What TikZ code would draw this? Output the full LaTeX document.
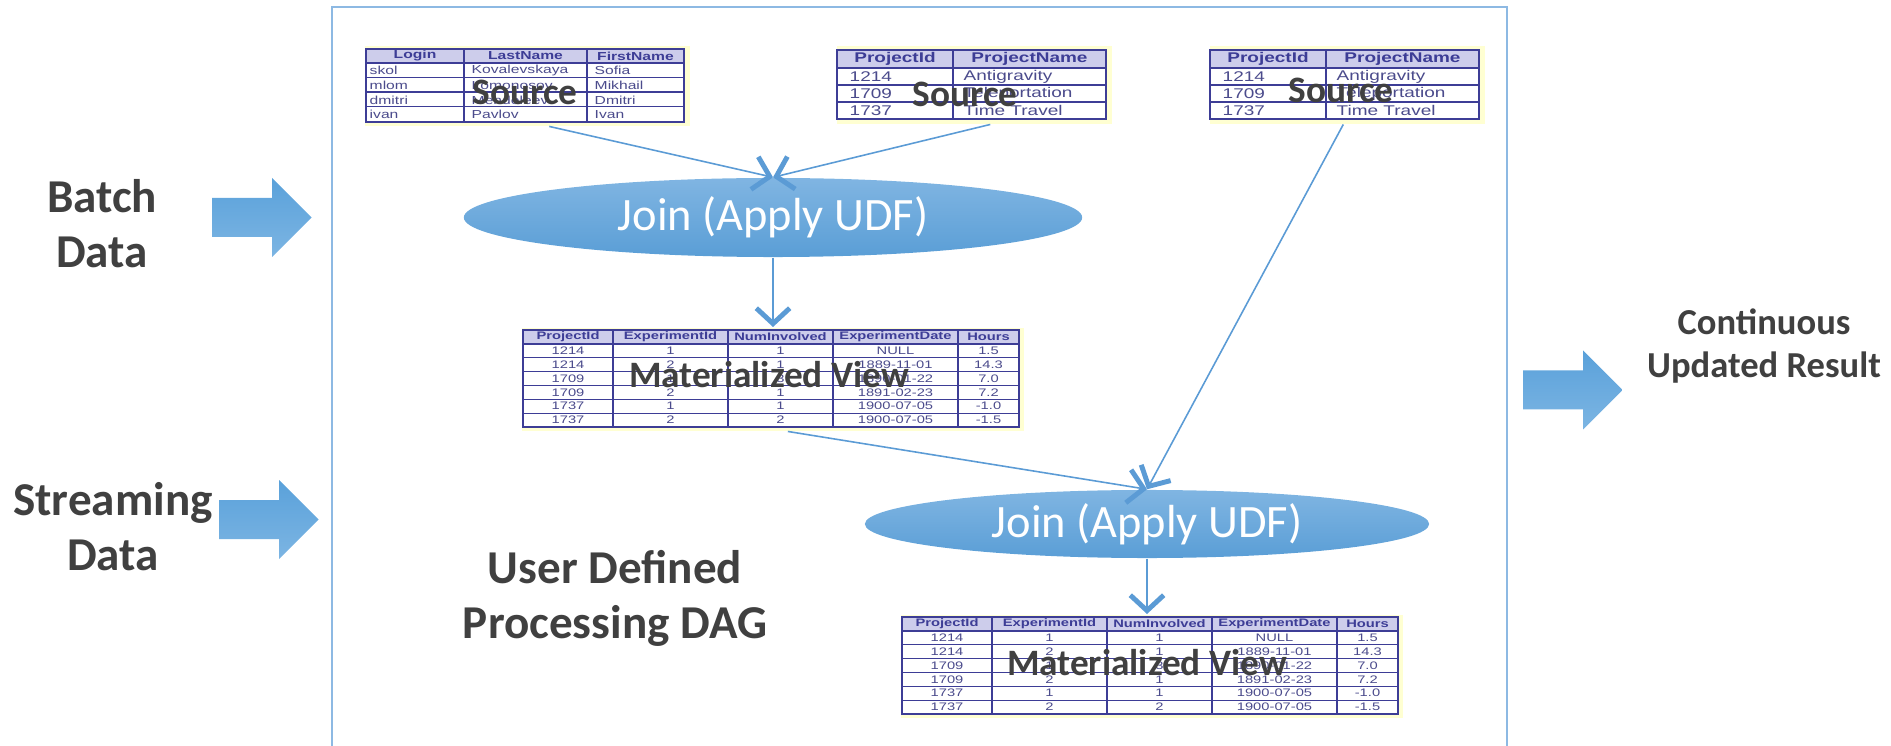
\documentclass[tikz,border=0pt]{standalone}
\usepackage{fontspec}
\setmainfont{Carlito}
\newfontfamily\tabfont[FakeStretch=1.35]{Liberation Sans}
\usetikzlibrary{calc,shapes.geometric,arrows.meta}

\definecolor{linkblue}{HTML}{5B9BD5}
\definecolor{frameblue}{HTML}{8DB9E3}
\definecolor{ovaltop}{HTML}{80B5E2}
\definecolor{ovalbot}{HTML}{5A9ED6}
\definecolor{arrowtop}{HTML}{5AA1DA}
\definecolor{arrowbot}{HTML}{7CB5E3}
\definecolor{labelgray}{HTML}{404040}
\definecolor{paper}{HTML}{FFFFD2}
\definecolor{headlav}{HTML}{CDCDEB}
\definecolor{gridnavy}{HTML}{3D3D96}
\definecolor{cellink}{HTML}{4B4B8C}

\tikzset{
	flow/.style={draw=linkblue, line width=0.45pt, -{Straight Barb[length=4.4pt,width=9.5pt,line width=1.4pt]}},
	joinoval/.style={ellipse, inner sep=0pt, top color=ovaltop, bottom color=ovalbot, draw=none, text=white, font=\fontsize{13.2}{14}\selectfont},
	tablebg/.style={fill=paper, draw=none, inner sep=0pt},
	headfill/.style={fill=headlav},
	gridline/.style={draw=gridnavy, line width=0.35pt},
	headtxt/.style={text=gridnavy, inner sep=0pt, font=\tabfont\bfseries\tabsize},
	celltxt/.style={text=cellink, inner sep=0pt, font=\tabfont\tabsize},
	tablelabel/.style={text=labelgray, inner sep=0pt, anchor=base, font=\bfseries\fontsize{10.6}{12}\selectfont},
	biglabel/.style={text=labelgray, align=center, inner sep=0pt, font=\bfseries\fontsize{13.4}{15.6}\selectfont},
	blockarrow/.style={top color=arrowtop, bottom color=arrowbot, draw=none},
	dagframe/.style={draw=frameblue, line width=0.6pt}
}

\def\tabsize{\fontsize{3.3}{3.8}\selectfont}
\def\blockarrow(#1,#2){\path[blockarrow] (#1,#2) ++(0,-19.5) -- ++(60,0) -- ++(0,-20) -- ++(39.5,39.5) -- ++(-39.5,39.5) -- ++(0,-20) -- ++(-60,0) -- cycle;}
\def\projtable[#1](#2){%
	\node[tablebg, minimum width=2.75cm, minimum height=0.78cm, anchor=north west] (#1) at (#2,45) {};
	\begin{scope}[shift={(#2,0)}]
		\fill[white] (1,50) rectangle (270,119);
		\fill[headfill] (1,50) rectangle (270,68);
		\draw[gridline] (1,50) rectangle (270,119);
		\draw[gridline] (117,50) -- (117,119);
		\foreach \y in {68,85,102} \draw[gridline] (1,\y) -- (270,\y);
		\node[headtxt] (#1-h1) at (59,59) {ProjectId};
		\node[headtxt] (#1-h2) at (193.5,59) {ProjectName};
		\foreach \pid/\pname [count=\i] in {1214/Antigravity, 1709/Teleportation, 1737/Time Travel} {
			\node[celltxt, anchor=west] (#1-id\i) at (13,{68+17*(\i-0.5)}) {\pid};
			\node[celltxt, anchor=west] (#1-nm\i) at (127,{68+17*(\i-0.5)}) {\pname};
		}
	\end{scope}}
\def\viewtable[#1](#2,#3){%
	\node[tablebg, minimum width=5.02cm, minimum height=1.03cm, anchor=north west] (#1) at (#2-2,#3-3) {};
	\begin{scope}[shift={(#2,#3)}]
		\fill[white] (0,0) rectangle (496,97);
		\fill[headfill] (0,0) rectangle (496,14);
		\draw[gridline] (0,0) rectangle (496,97);
		\foreach \x in {90,205,310,435} \draw[gridline] (\x,0) -- (\x,97);
		\foreach \k in {0,...,5} \draw[gridline] (0,{14+13.83*\k}) -- (496,{14+13.83*\k});
		\foreach \h/\cx [count=\j] in {ProjectId/45, ExperimentId/147.5, NumInvolved/257.5, ExperimentDate/372.5, Hours/465.5}
			\node[headtxt] (#1-h\j) at (\cx,7) {\h};
		\foreach \pid/\eid/\num/\edate/\hrs [count=\i] in {1214/1/1/NULL/1.5, 1214/2/1/1889-11-01/14.3, 1709/1/3/1890-01-22/7.0, 1709/2/1/1891-02-23/7.2, 1737/1/1/1900-07-05/-1.0, 1737/2/2/1900-07-05/-1.5} {
			\node[celltxt] (#1-p\i) at (45,{14+13.83*(\i-0.5)}) {\pid};
			\node[celltxt] (#1-e\i) at (147.5,{14+13.83*(\i-0.5)}) {\eid};
			\node[celltxt] (#1-n\i) at (257.5,{14+13.83*(\i-0.5)}) {\num};
			\node[celltxt] (#1-d\i) at (372.5,{14+13.83*(\i-0.5)}) {\edate};
			\node[celltxt] (#1-r\i) at (465.5,{14+13.83*(\i-0.5)}) {\hrs};
		}
	\end{scope}}

\begin{document}
\begin{tikzpicture}[x=0.01cm, y=-0.01cm]
			%%%%% START %%%%%
			\useasboundingbox (0,0) rectangle (1891,746);
			
			\draw[dagframe] (332,746) -- (332,7) -- (1507,7) -- (1507,746);
			
			% inputs and output
			\node[biglabel] (batch) at (102,224) {Batch\\Data};
			\blockarrow(212,217.5)
			\node[biglabel] (stream) at (113,527) {Streaming\\Data};
			\blockarrow(219,519.5)
			\node[biglabel] (dag) at (615,598) {User Defined\\Processing DAG};
			\node[biglabel, font=\bfseries\fontsize{10.4}{12}\selectfont] (result) at (1764,346) {Continuous\\Updated Result};
			\blockarrow(1523,390)
			
			% sources
			\node[tablebg, minimum width=3.25cm, minimum height=0.8cm, anchor=north west] (persons) at (364,45) {};
			\fill[white] (366,49) rectangle (684,122);
			\fill[headfill] (366,49) rectangle (684,63);
			\draw[gridline] (366,49) rectangle (684,122);
			\foreach \x in {464,587} \draw[gridline] (\x,49) -- (\x,122);
			\foreach \y in {63,77.5,92,106.5} \draw[gridline] (366,\y) -- (684,\y);
			\node[headtxt] (persons-h1) at (415,56) {Login};
			\node[headtxt] (persons-h2) at (525.5,56) {LastName};
			\node[headtxt] (persons-h3) at (635.5,56) {FirstName};
			\foreach \login/\lname/\fname [count=\i] in {skol/Kovalevskaya/Sofia, mlom/Lomonosov/Mikhail, dmitri/Mendeleev/Dmitri, ivan/Pavlov/Ivan} {
				\node[celltxt, anchor=west] (persons-l\i) at (369,{63+14.75*(\i-0.5)}) {\login};
				\node[celltxt, anchor=west] (persons-n\i) at (471,{63+14.75*(\i-0.5)}) {\lname};
				\node[celltxt, anchor=west] (persons-f\i) at (594,{63+14.75*(\i-0.5)}) {\fname};
			}
			\node[tablelabel] (src1) at (525,105) {Source};
			
			\def\tabsize{\fontsize{4.0}{4.6}\selectfont}
			\projtable[projects](836)
			\node[tablelabel] (src2) at (965,107) {Source};
			\projtable[projectsb](1209)
			\node[tablelabel] (src3) at (1341,103) {Source};
			
			% first join
			\node[joinoval, minimum width=6.18cm, minimum height=0.79cm] (join1) at (773,217.5) {Join (Apply UDF)};
			\draw[flow] ($(persons.south)+(22,0)$) -- (join1.north);
			\draw[flow] ($(projects.south)+(16,0)$) -- (join1.north);
			
			\def\tabsize{\fontsize{3.1}{3.6}\selectfont}
			\viewtable[view1](523,330)
			\node[tablelabel] (mvlab1) at (769,388) {Materialized View};
			\draw[flow] (join1.south) -- (join1.south |- view1.north);
			
			% second join
			\node[joinoval, minimum width=5.64cm, minimum height=0.68cm] (join2) at (1147,524) {Join (Apply UDF)};
			\draw[flow] ($(view1.south)+(15,0)$) -- (join2.north);
			\draw[flow] ($(projectsb.south)+(-4,0)$) -- (join2.north);
			
			\viewtable[view2](902,617)
			\node[tablelabel] (mvlab2) at (1147,675) {Materialized View};
			\draw[flow] (join2.south) -- (join2.south |- view2.north);
			
			%%%%% END %%%%%
\end{tikzpicture}
\end{document}
